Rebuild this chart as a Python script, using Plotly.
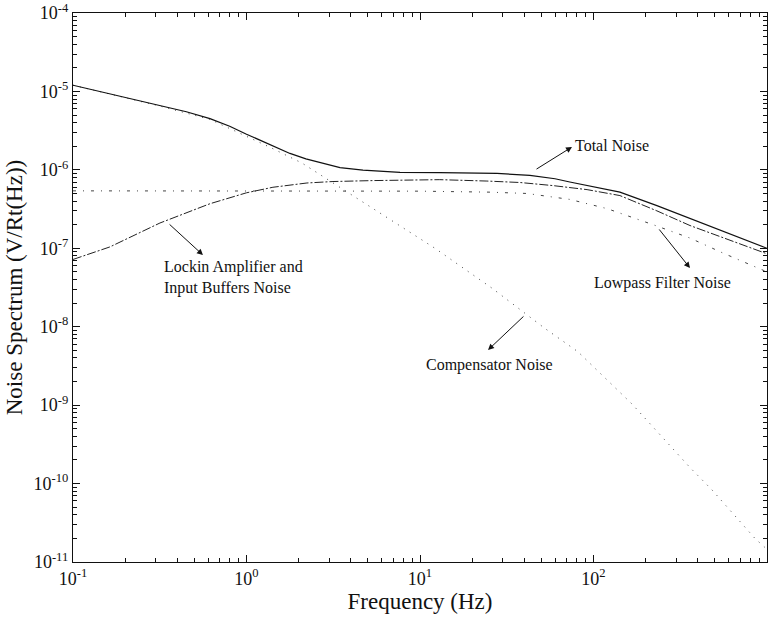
import plotly.graph_objects as go

# ---- data (frequency in Hz, noise in V/rt(Hz)) ----
total_f = [0.1, 0.13, 0.163, 0.22, 0.317, 0.45, 0.616, 0.8, 1.0, 1.36, 1.78, 2.2, 2.65, 3.46, 4.69, 7.67, 13.0, 20.0, 27.8, 43.0, 60.0, 73.0, 100, 142, 232, 360, 612, 1000]
total_v = [1.2e-5, 1.05e-5, 9.4e-6, 8.0e-6, 6.6e-6, 5.5e-6, 4.5e-6, 3.6e-6, 2.85e-6, 2.1e-6, 1.62e-6, 1.38e-6, 1.24e-6, 1.07e-6, 9.9e-7, 9.3e-7, 9.2e-7, 9.1e-7, 9.0e-7, 8.5e-7, 7.7e-7, 7.0e-7, 6.1e-7, 5.2e-7, 3.5e-7, 2.4e-7, 1.55e-7, 1.0e-7]

lockin_f = [0.1, 0.163, 0.317, 0.616, 1.0, 1.42, 2.23, 3.15, 5.37, 13.0, 24.3, 37.7, 58.4, 91.8, 142, 232, 360, 612, 1000]
lockin_v = [7.2e-8, 1.04e-7, 2.1e-7, 3.7e-7, 5.1e-7, 6.0e-7, 6.8e-7, 7.1e-7, 7.3e-7, 7.5e-7, 7.2e-7, 6.9e-7, 6.3e-7, 5.6e-7, 4.7e-7, 3.0e-7, 1.95e-7, 1.26e-7, 8.5e-8]

lowpass_f = [0.1, 1.0, 10.0, 25.0, 41.4, 73.0, 120, 226, 360, 557, 875, 1000]
lowpass_v = [5.4e-7, 5.4e-7, 5.35e-7, 5.2e-7, 5.0e-7, 4.2e-7, 3.2e-7, 1.96e-7, 1.35e-7, 8.7e-8, 5.6e-8, 5.0e-8]

comp_f = [0.1, 0.163, 0.317, 0.616, 1.0, 1.36, 2.09, 3.46, 4.95, 7.18, 12.2, 26.0, 52.5, 81.3, 167, 360, 482, 852, 1000]
comp_v = [1.2e-5, 9.3e-6, 6.5e-6, 4.4e-6, 2.7e-6, 1.95e-6, 1.22e-6, 6.0e-7, 3.65e-7, 2.16e-7, 1.0e-7, 3.1e-8, 9.5e-9, 4.8e-9, 1.03e-9, 1.6e-10, 8.3e-11, 2.0e-11, 1.45e-11]

x_tick_vals = [0.1, 1, 10, 100, 1000]
x_tick_text = ["10<sup>-1</sup>", "10<sup>0</sup>", "10<sup>1</sup>", "10<sup>2</sup>", "10<sup>3</sup>"]
y_tick_vals = [1e-11, 1e-10, 1e-9, 1e-8, 1e-7, 1e-6, 1e-5, 1e-4]
y_tick_text = ["10<sup>-11</sup>", "10<sup>-10</sup>", "10<sup>-9</sup>", "10<sup>-8</sup>",
               "10<sup>-7</sup>", "10<sup>-6</sup>", "10<sup>-5</sup>", "10<sup>-4</sup>"]

FONT = "Liberation Serif"
INK = "#111"

fig = go.Figure()
fig.add_trace(go.Scatter(x=comp_f, y=comp_v, mode="lines", name="Compensator Noise",
                         line=dict(color="#444", width=1, dash="1px,6px")))
fig.add_trace(go.Scatter(x=lowpass_f, y=lowpass_v, mode="lines", name="Lowpass Filter Noise",
                         line=dict(color="#444", width=1, dash="3px,7px,1px,7px")))
fig.add_trace(go.Scatter(x=lockin_f, y=lockin_v, mode="lines", name="Lockin Amplifier and Input Buffers Noise",
                         line=dict(color="#222", width=1, dash="9px,2px,2px,2px")))
fig.add_trace(go.Scatter(x=total_f, y=total_v, mode="lines", name="Total Noise",
                         line=dict(color=INK, width=1.2)))

lbl = dict(font=dict(family=FONT, size=16, color=INK), showarrow=False, xref="x", yref="y")
# label positions in log10 axis units
fig.add_annotation(text="Total Noise", x=1.882, y=-5.683, xanchor="left", yanchor="middle", **lbl)
fig.add_annotation(text="Lockin Amplifier and<br>Input Buffers Noise", x=-0.487, y=-7.372,
                   xanchor="left", yanchor="middle", align="left", **lbl)
fig.add_annotation(text="Lowpass Filter Noise", x=1.991, y=-7.443, xanchor="left", yanchor="middle", **lbl)
fig.add_annotation(text="Compensator Noise", x=1.023, y=-8.488, xanchor="left", yanchor="middle", **lbl)

def arrow(hx, hy, tx, ty):
    fig.add_annotation(x=hx, y=hy, ax=tx, ay=ty, xref="x", yref="y", axref="x", ayref="y",
                       text="", showarrow=True, arrowhead=2, arrowsize=1.2, arrowwidth=1,
                       arrowcolor=INK)

# arrows: head (near label) and tail (near curve), log10 axis units
arrow(1.876, -5.708, 1.663, -6.002)
arrow(-0.251, -7.086, -0.452, -6.678)
arrow(2.556, -7.251, 2.372, -6.741)
arrow(1.392, -8.297, 1.605, -7.851)

minor_x = [m * 10.0 ** e for e in range(-1, 3) for m in range(2, 10)]
minor_y = [m * 10.0 ** e for e in range(-11, -4) for m in range(2, 10)]

def axis_common(tv, tt, mv):
    return dict(type="log", showline=True, linecolor=INK, linewidth=1.3, mirror="allticks",
                ticks="inside", ticklen=7, tickcolor=INK, showgrid=False, zeroline=False,
                automargin=False, tickvals=tv, ticktext=tt,
                tickfont=dict(family=FONT, size=18, color=INK),
                minor=dict(ticks="inside", ticklen=3.5, tickcolor=INK, tickvals=mv, showgrid=False))

fig.update_xaxes(range=[-1, 3],
                 title=dict(text="Frequency (Hz)", font=dict(family=FONT, size=23, color=INK), standoff=0),
                 **axis_common(x_tick_vals, x_tick_text, minor_x))
fig.update_yaxes(range=[-11, -4],
                 title=dict(text="Noise Spectrum (V/Rt(Hz))", font=dict(family=FONT, size=23, color=INK), standoff=4),
                 **axis_common(y_tick_vals, y_tick_text, minor_y))

fig.update_layout(width=775, height=617, showlegend=False, template="none",
                  plot_bgcolor="white", paper_bgcolor="white",
                  margin=dict(l=73, r=8, t=13, b=55),
                  font=dict(family=FONT))

# remove the default 8px page margin so the figure sits at the window's top-left corner
fig.write_html("out.html", config={"displayModeBar": False},
               post_script="document.body.style.margin='0';")
